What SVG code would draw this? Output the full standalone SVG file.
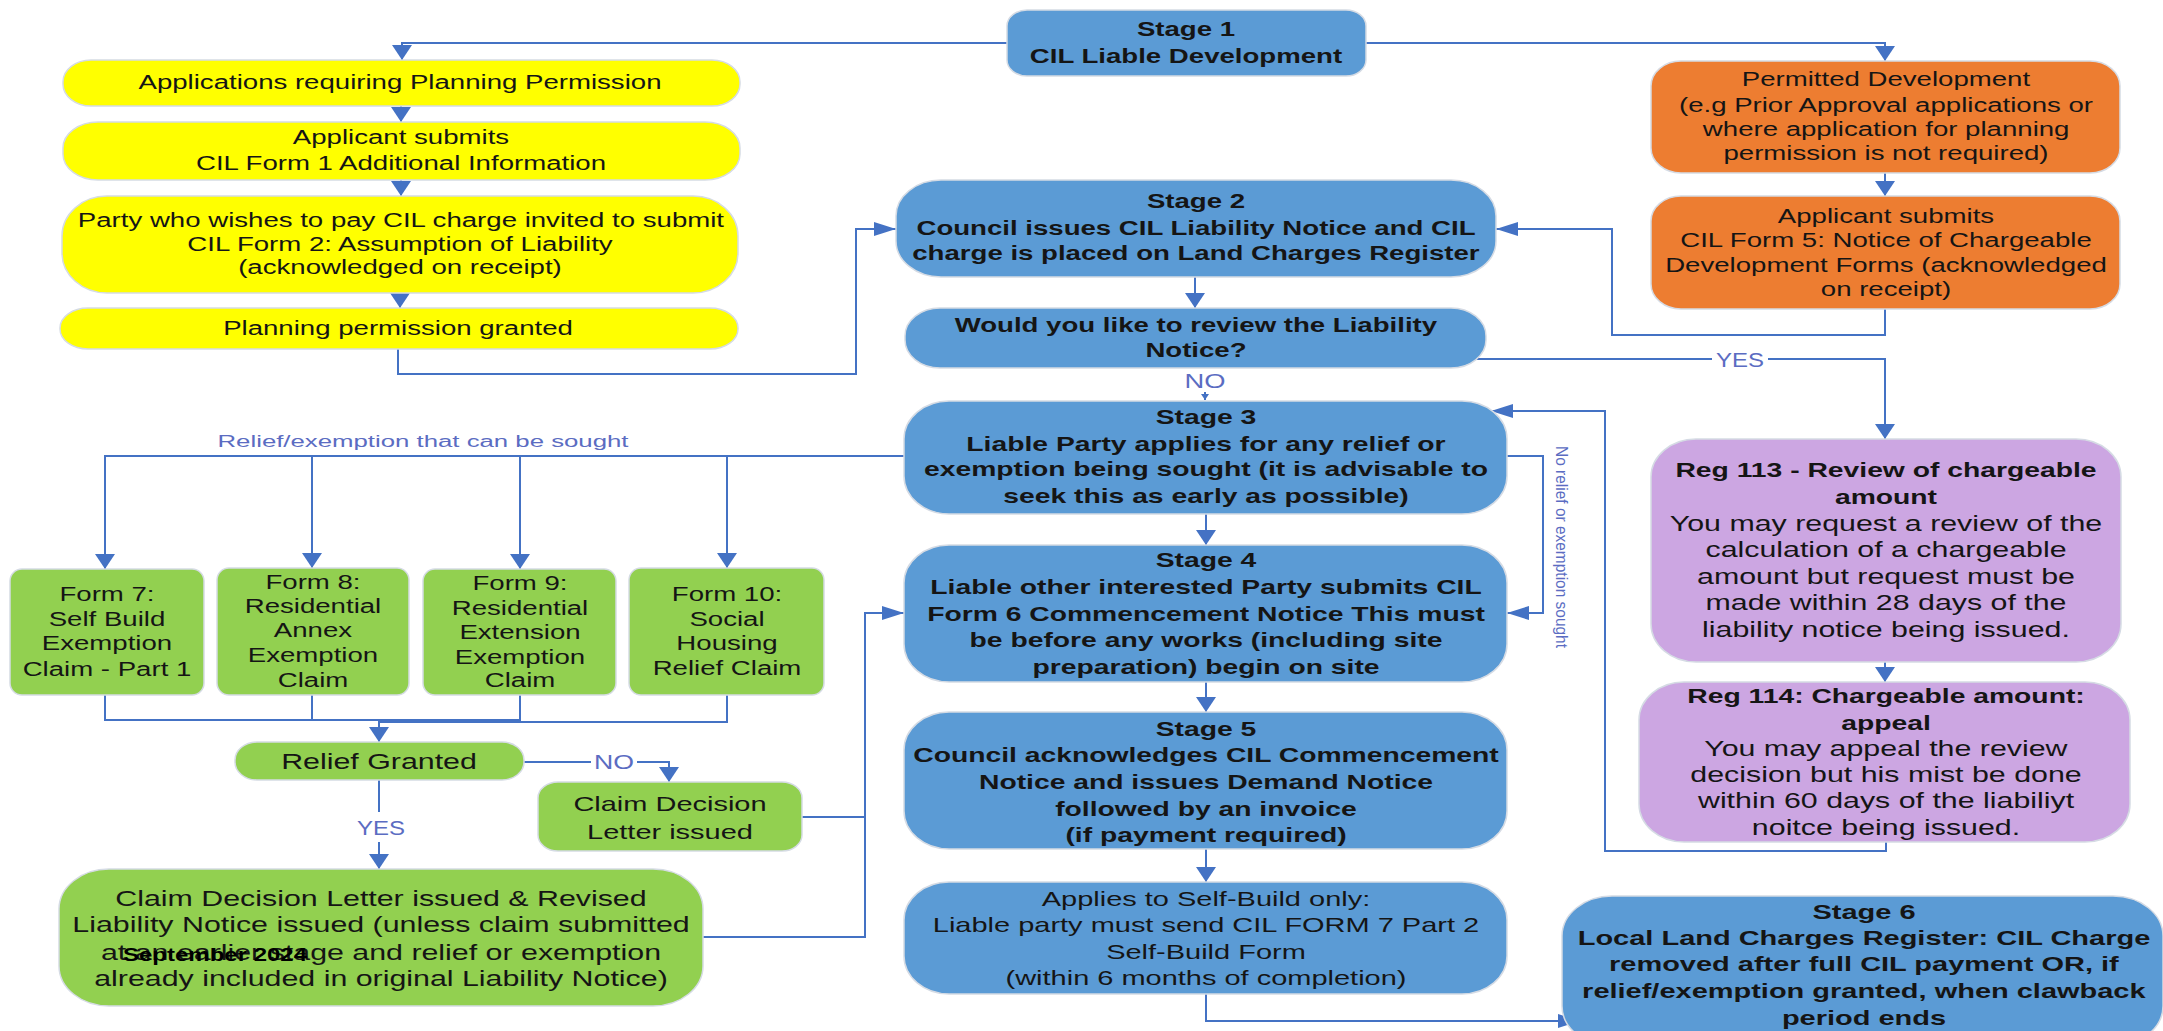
<svg xmlns="http://www.w3.org/2000/svg" width="2163" height="1031" viewBox="0 0 2163 1031">
<defs>
<style>
.bx{stroke:#d5dbe4;stroke-width:1.5}
.blue{fill:#5B9BD5}.yel{fill:#FFFF00}.org{fill:#ED7D31}.grn{fill:#92D050}.pur{fill:#CCA6E2}
.c{fill:none;stroke:#4472C4;stroke-width:2}
.t{font-family:"Liberation Sans",Arial,sans-serif;text-anchor:middle;fill:#151515;transform-box:fill-box;transform-origin:center;transform:scaleX(1.38)}
.b{font-weight:bold}
.s20{font-size:20px}.s205{font-size:20.5px}.s21{font-size:21px}.s22{font-size:22px}
.lbl{font-family:"Liberation Sans",Arial,sans-serif;text-anchor:middle;fill:#5b6cc2;font-size:20px}
</style>
<marker id="mh" markerUnits="userSpaceOnUse" markerWidth="22" markerHeight="14" refX="22" refY="7" orient="auto"><path d="M0,0 L22,7 L0,14 z" fill="#4472C4"/></marker>
<marker id="mv" markerUnits="userSpaceOnUse" markerWidth="15" markerHeight="20" refX="15" refY="10" orient="auto"><path d="M0,0 L15,10 L0,20 z" fill="#4472C4"/></marker>
<marker id="ms" markerUnits="userSpaceOnUse" markerWidth="6" markerHeight="8" refX="6" refY="4" orient="auto"><path d="M0,0 L6,4 L0,8 z" fill="#4472C4"/></marker>
</defs>

<g id="connectors">
<path class="c" d="M1007,43 H402 V60" marker-end="url(#mv)"/>
<path class="c" d="M401,106 V122" marker-end="url(#mv)"/>
<path class="c" d="M401,180 V196" marker-end="url(#mv)"/>
<path class="c" d="M400,293 V308" marker-end="url(#mv)"/>
<path class="c" d="M398,349 V374 H856 V229 H896" marker-end="url(#mh)"/>
<path class="c" d="M1365,43 H1885 V61" marker-end="url(#mv)"/>
<path class="c" d="M1885,173 V196" marker-end="url(#mv)"/>
<path class="c" d="M1885,309 V335 H1612 V229 H1496" marker-end="url(#mh)"/>
<path class="c" d="M1195,277 V308" marker-end="url(#mv)"/>
<path class="c" d="M1205,392 V400" marker-end="url(#ms)"/>
<path class="c" d="M1475,359 H1712"/>
<path class="c" d="M1768,359 H1885 V439" marker-end="url(#mv)"/>
<path class="c" d="M1885,662 V682" marker-end="url(#mv)"/>
<path class="c" d="M1886,842 V851 H1605 V411 H1491" marker-end="url(#mh)"/>
<path class="c" d="M904,456 H105 V569" marker-end="url(#mv)"/>
<path class="c" d="M312,456 V568" marker-end="url(#mv)"/>
<path class="c" d="M520,456 V569" marker-end="url(#mv)"/>
<path class="c" d="M727,456 V568" marker-end="url(#mv)"/>
<path class="c" d="M105,695 V720 H520 V695"/>
<path class="c" d="M312,695 V720"/>
<path class="c" d="M727,695 V722 H379"/>
<path class="c" d="M379,720 V742" marker-end="url(#mv)"/>
<path class="c" d="M524,762 H591"/>
<path class="c" d="M637,762 H669 V782" marker-end="url(#mv)"/>
<path class="c" d="M379,780 V812"/>
<path class="c" d="M379,842 V869" marker-end="url(#mv)"/>
<path class="c" d="M802,817 H865"/>
<path class="c" d="M703,937 H865 V613 H904" marker-end="url(#mh)"/>
<path class="c" d="M1507,456 H1543 V613 H1507" marker-end="url(#mh)"/>
<path class="c" d="M1206,514 V545" marker-end="url(#mv)"/>
<path class="c" d="M1206,682 V712" marker-end="url(#mv)"/>
<path class="c" d="M1206,849 V882" marker-end="url(#mv)"/>
<path class="c" d="M1206,994 V1021 H1580" marker-end="url(#mh)"/>
<text class="lbl" x="1740" y="367" textLength="48" lengthAdjust="spacingAndGlyphs">YES</text>
<text class="lbl" x="1205" y="388" textLength="41" lengthAdjust="spacingAndGlyphs">NO</text>
<text class="lbl" x="614" y="769" textLength="40" lengthAdjust="spacingAndGlyphs">NO</text>
<text class="lbl" x="381" y="835" textLength="48" lengthAdjust="spacingAndGlyphs">YES</text>
<text class="lbl" x="423" y="447" style="font-size:16px" textLength="411" lengthAdjust="spacingAndGlyphs">Relief/exemption that can be sought</text>
<text class="lbl" x="1562" y="553" style="font-size:16px" textLength="202" lengthAdjust="spacingAndGlyphs" transform="rotate(90 1562 547)">No relief or exemption sought</text>
</g>

<g id="yellow1"><rect class="bx yel" x="63" y="60" width="677" height="46" rx="28" ry="22"/>
<text class="t s20" x="400" y="89">Applications requiring Planning Permission</text></g>
<g id="yellow2"><rect class="bx yel" x="63" y="122" width="677" height="58" rx="35" ry="26"/>
<text class="t s20" x="401" y="144">Applicant submits</text>
<text class="t s20" x="401" y="170">CIL Form 1 Additional Information</text></g>
<g id="yellow3"><rect class="bx yel" x="62" y="196" width="676" height="97" rx="45" ry="40"/>
<text class="t s20" x="401" y="227">Party who wishes to pay CIL charge invited to submit</text>
<text class="t s20" x="400" y="251">CIL Form 2: Assumption of Liability</text>
<text class="t s20" x="400" y="274">(acknowledged on receipt)</text></g>
<g id="yellow4"><rect class="bx yel" x="60" y="308" width="678" height="41" rx="28" ry="20"/>
<text class="t s20" x="398" y="335">Planning permission granted</text></g>

<g id="stage1"><rect class="bx blue" x="1007" y="10" width="359" height="66" rx="20" ry="16"/>
<text class="t b s20" x="1186" y="36">Stage 1</text>
<text class="t b s20" x="1186" y="63">CIL Liable Development</text></g>

<g id="orange1"><rect class="bx org" x="1651" y="61" width="469" height="112" rx="30" ry="25"/>
<text class="t s20" x="1886" y="86">Permitted Development</text>
<text class="t s20" x="1886" y="112">(e.g Prior Approval applications or</text>
<text class="t s20" x="1886" y="136">where application for planning</text>
<text class="t s20" x="1886" y="160">permission is not required)</text></g>
<g id="orange2"><rect class="bx org" x="1651" y="196" width="469" height="113" rx="30" ry="25"/>
<text class="t s20" x="1886" y="223">Applicant submits</text>
<text class="t s20" x="1886" y="247">CIL Form 5: Notice of Chargeable</text>
<text class="t s20" x="1886" y="272">Development Forms (acknowledged</text>
<text class="t s20" x="1886" y="296">on receipt)</text></g>

<g id="stage2"><rect class="bx blue" x="896" y="180" width="600" height="97" rx="45" ry="36"/>
<text class="t b s20" x="1196" y="208">Stage 2</text>
<text class="t b s20" x="1196" y="235">Council issues CIL Liability Notice and CIL</text>
<text class="t b s20" x="1196" y="260">charge is placed on Land Charges Register</text></g>

<g id="review"><rect class="bx blue" x="905" y="308" width="581" height="60" rx="35" ry="28"/>
<text class="t b s20" x="1196" y="332">Would you like to review the Liability</text>
<text class="t b s20" x="1196" y="357">Notice?</text></g>

<g id="stage3"><rect class="bx blue" x="904" y="401" width="603" height="113" rx="45" ry="38"/>
<text class="t b s205" x="1206" y="424">Stage 3</text>
<text class="t b s205" x="1206" y="451">Liable Party applies for any relief or</text>
<text class="t b s205" x="1206" y="476">exemption being sought (it is advisable to</text>
<text class="t b s205" x="1206" y="503">seek this as early as possible)</text></g>

<g id="stage4"><rect class="bx blue" x="904" y="545" width="603" height="137" rx="45" ry="38"/>
<text class="t b s205" x="1206" y="567">Stage 4</text>
<text class="t b s205" x="1206" y="594">Liable other interested Party submits CIL</text>
<text class="t b s205" x="1206" y="621">Form 6 Commencement Notice This must</text>
<text class="t b s205" x="1206" y="647">be before any works (including site</text>
<text class="t b s205" x="1206" y="674">preparation) begin on site</text></g>

<g id="stage5"><rect class="bx blue" x="904" y="712" width="603" height="137" rx="45" ry="38"/>
<text class="t b s205" x="1206" y="736">Stage 5</text>
<text class="t b s205" x="1206" y="762">Council acknowledges CIL Commencement</text>
<text class="t b s205" x="1206" y="789">Notice and issues Demand Notice</text>
<text class="t b s205" x="1206" y="816">followed by an invoice</text>
<text class="t b s205" x="1206" y="842">(if payment required)</text></g>

<g id="selfbuild"><rect class="bx blue" x="904" y="882" width="603" height="112" rx="45" ry="38"/>
<text class="t s21" x="1206" y="906">Applies to Self-Build  only:</text>
<text class="t s21" x="1206" y="932">Liable party must send CIL FORM 7 Part 2</text>
<text class="t s21" x="1206" y="959">Self-Build  Form</text>
<text class="t s21" x="1206" y="985">(within 6 months of completion)</text></g>

<g id="stage6"><rect class="bx blue" x="1562" y="896" width="601" height="150" rx="50" ry="40"/>
<text class="t b s21" x="1864" y="919">Stage 6</text>
<text class="t b s21" x="1864" y="945">Local Land Charges Register: CIL Charge</text>
<text class="t b s21" x="1864" y="971">removed after full CIL payment OR, if</text>
<text class="t b s21" x="1864" y="998">relief/exemption granted, when clawback</text>
<text class="t b s21" x="1864" y="1025">period ends</text></g>

<g id="reg113"><rect class="bx pur" x="1651" y="439" width="470" height="223" rx="45" ry="38"/>
<text class="t b s205" x="1886" y="477">Reg 113 - Review of chargeable</text>
<text class="t b s205" x="1886" y="504">amount</text>
<text class="t s22" x="1886" y="531">You may request a review of the</text>
<text class="t s22" x="1886" y="557">calculation of a chargeable</text>
<text class="t s22" x="1886" y="584">amount but request must be</text>
<text class="t s22" x="1886" y="610">made within 28 days of the</text>
<text class="t s22" x="1886" y="637">liability notice being issued.</text></g>

<g id="reg114"><rect class="bx pur" x="1639" y="682" width="491" height="160" rx="45" ry="38"/>
<text class="t b s205" x="1886" y="703">Reg 114: Chargeable amount:</text>
<text class="t b s205" x="1886" y="730">appeal</text>
<text class="t s22" x="1886" y="756">You may appeal the review</text>
<text class="t s22" x="1886" y="782">decision but his mist be done</text>
<text class="t s22" x="1886" y="808">within 60 days of the liabiliyt</text>
<text class="t s22" x="1886" y="835">noitce being issued.</text></g>

<g id="form7"><rect class="bx grn" x="10" y="569" width="194" height="126" rx="12"/>
<text class="t s20" x="107" y="601">Form 7:</text>
<text class="t s20" x="107" y="626">Self Build</text>
<text class="t s20" x="107" y="650">Exemption</text>
<text class="t s20" x="107" y="676">Claim - Part 1</text></g>
<g id="form8"><rect class="bx grn" x="217" y="568" width="192" height="127" rx="12"/>
<text class="t s20" x="313" y="589">Form 8:</text>
<text class="t s20" x="313" y="613">Residential</text>
<text class="t s20" x="313" y="637">Annex</text>
<text class="t s20" x="313" y="662">Exemption</text>
<text class="t s20" x="313" y="687">Claim</text></g>
<g id="form9"><rect class="bx grn" x="423" y="569" width="193" height="126" rx="12"/>
<text class="t s20" x="520" y="590">Form 9:</text>
<text class="t s20" x="520" y="615">Residential</text>
<text class="t s20" x="520" y="639">Extension</text>
<text class="t s20" x="520" y="664">Exemption</text>
<text class="t s20" x="520" y="687">Claim</text></g>
<g id="form10"><rect class="bx grn" x="629" y="568" width="195" height="127" rx="12"/>
<text class="t s20" x="727" y="601">Form 10:</text>
<text class="t s20" x="727" y="626">Social</text>
<text class="t s20" x="727" y="650">Housing</text>
<text class="t s20" x="727" y="675">Relief Claim</text></g>

<g id="relief"><rect class="bx grn" x="235" y="742" width="289" height="38" rx="22" ry="18"/>
<text class="t s22" x="379" y="769">Relief Granted</text></g>
<g id="claim"><rect class="bx grn" x="538" y="782" width="264" height="69" rx="20" ry="16"/>
<text class="t s21" x="670" y="811">Claim Decision</text>
<text class="t s21" x="670" y="839">Letter issued</text></g>
<g id="claimrevised"><rect class="bx grn" x="59" y="869" width="644" height="137" rx="50" ry="40"/>
<text class="t s22" x="381" y="906">Claim Decision Letter issued &amp; Revised</text>
<text class="t s22" x="381" y="932">Liability Notice issued (unless claim submitted</text>
<text class="t s22" x="381" y="960">at an earlier stage and  relief or exemption</text>
<text class="t s22" x="381" y="986">already included in original Liability Notice)</text></g>

<g id="footer"><text x="123" y="961" style="font-family:'Liberation Sans',Arial,sans-serif;font-weight:bold;font-size:19px;fill:#000" textLength="184" lengthAdjust="spacingAndGlyphs">September 2024</text></g>
</svg>
